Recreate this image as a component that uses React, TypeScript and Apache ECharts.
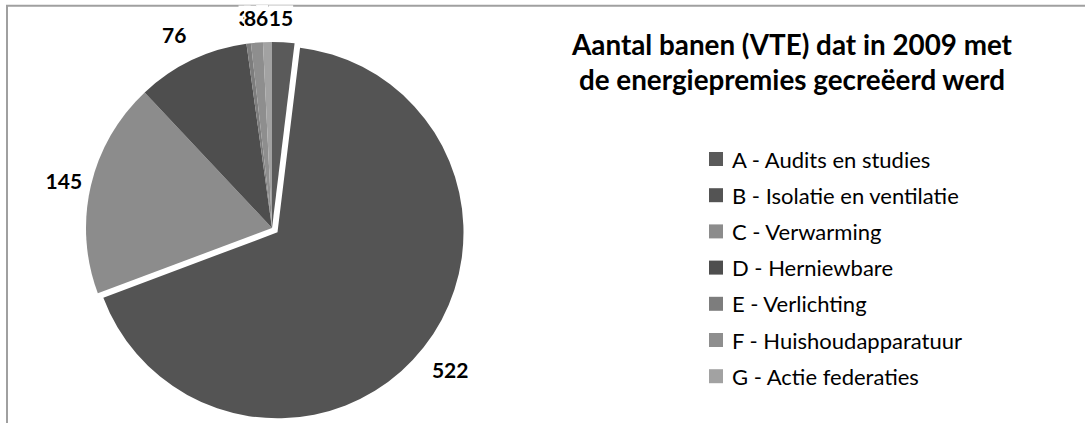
import React, { useEffect, useRef } from "react";
import * as echarts from "echarts";

const categories = [
  "A - Audits en studies",
  "B - Isolatie en ventilatie",
  "C - Verwarming",
  "D - Herniewbare",
  "E - Verlichting",
  "F - Huishoudapparatuur",
  "G - Actie federaties",
];
const values = [15, 522, 145, 76, 3, 8, 6];
const sliceColors = ["#5a5a5a", "#545454", "#8c8c8c", "#4e4e4e", "#7d7d7d", "#8e8e8e", "#a2a2a2"];
const explodedIndex = 1;
const titleLines = ["Aantal banen (VTE) dat in 2009 met", "de energiepremies gecreëerd werd"];

// label nudges (Excel "outside end" placement)
const labelNudgeX = [-15, 2, -1, -2, 3, 0, 1];
const labelNudgeY = [-17, 17, -3, -18, -18, -17, -17];

export default function App() {
  const ref = useRef<HTMLDivElement>(null);
  useEffect(() => {
    if (!ref.current) return;
    const chart = echarts.init(ref.current, null, { renderer: "svg" });
    const titleStyle = {
      align: "center",
      verticalAlign: "middle",
      fontFamily: "Lato",
      fontWeight: "bold",
      fontSize: 27.8,
      fill: "#000",
    };
    chart.setOption({
      animation: false,
      backgroundColor: "#ffffff",
      graphic: [
        {
          type: "rect",
          z: -10,
          silent: true,
          shape: { x: 7, y: 5.8, width: 3000, height: 3000 },
          style: { fill: "none", stroke: "#a0a0a0", lineWidth: 2 },
        },
        { type: "text", x: 792, y: 44, style: { ...titleStyle, text: titleLines[0] } },
        { type: "text", x: 792, y: 79, style: { ...titleStyle, text: titleLines[1] } },
      ],
      legend: {
        orient: "vertical",
        left: 709,
        top: 148,
        padding: 0,
        itemWidth: 14,
        itemHeight: 14,
        itemGap: 14.2,
        icon: "rect",
        selectedMode: false,
        data: categories,
        textStyle: {
          fontFamily: "Lato",
          fontSize: 22,
          lineHeight: 20,
          color: "#000",
          padding: [0, 0, 0, 4],
        },
      },
      series: [
        {
          type: "pie",
          center: [272, 228],
          radius: 186,
          startAngle: 90,
          clockwise: true,
          avoidLabelOverlap: false,
          selectedMode: "single",
          selectedOffset: 7,
          emphasis: { disabled: true },
          itemStyle: { borderWidth: 0 },
          label: {
            show: true,
            position: "outside",
            formatter: "{c}",
            fontFamily: "Lato",
            fontWeight: "bold",
            fontSize: 21,
            lineHeight: 24,
            color: "#000",
            backgroundColor: "#ffffff",
            distanceToLabelLine: 0,
          },
          labelLine: { show: false, length: 8, length2: 0 },
          labelLayout: (params: any) => ({
            dx: labelNudgeX[params.dataIndex],
            dy: labelNudgeY[params.dataIndex],
          }),
          data: categories.map((name, i) => ({
            name,
            value: values[i],
            selected: i === explodedIndex,
            itemStyle: { color: sliceColors[i] },
          })),
        },
      ],
    });
    return () => chart.dispose();
  }, []);
  return (
    <div
      ref={ref}
      style={{ position: "fixed", left: 0, top: 0, width: 1085, height: 423 }}
    />
  );
}
